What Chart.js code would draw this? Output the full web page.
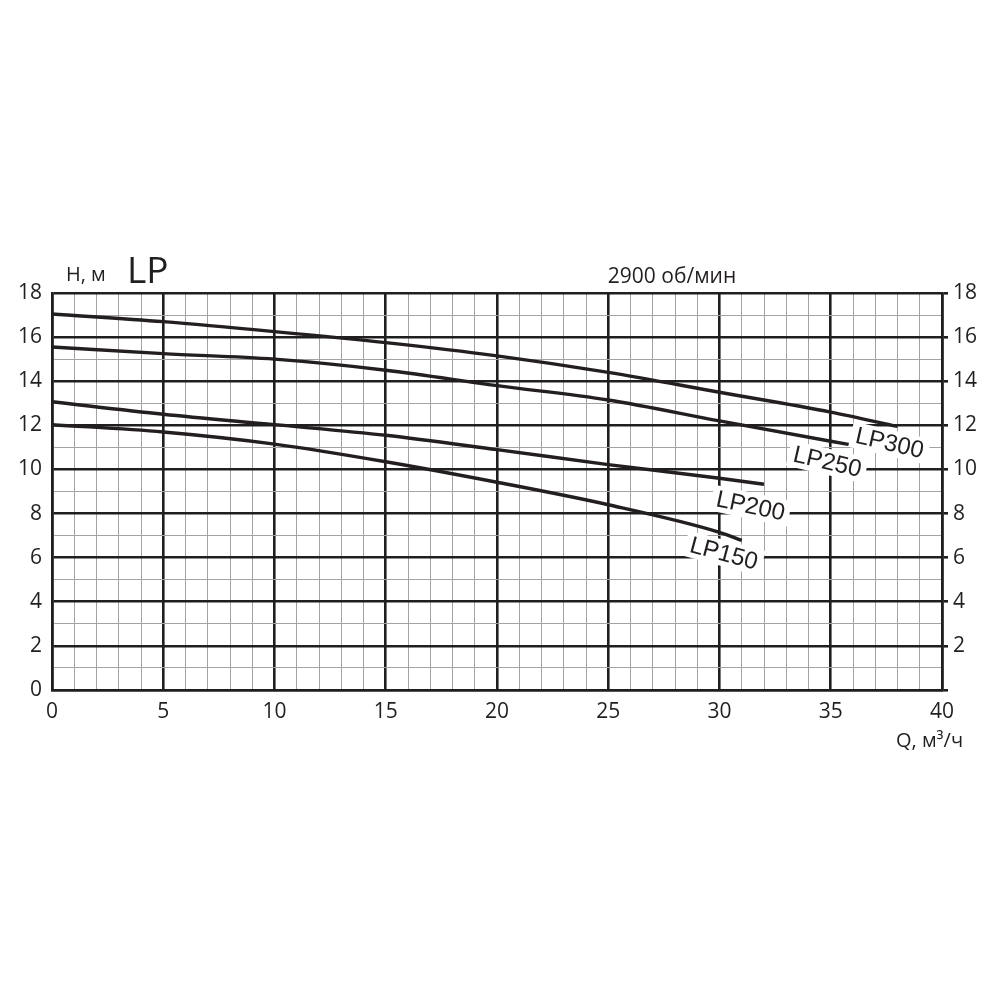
<!DOCTYPE html>
<html>
<head>
<meta charset="utf-8">
<script src="https://cdn.jsdelivr.net/npm/chart.js@4.4.1/dist/chart.umd.min.js"></script>
<style>
  html, body { margin: 0; padding: 0; background: #fff; }
  #wrap { width: 1000px; height: 1000px; }
</style>
</head>
<body>
<div id="wrap"><canvas id="pumpChart" width="1000" height="1000"></canvas></div>
<script>
// Q, m3/h and H, m
const flowLP300 = [0, 5, 10, 15, 20, 25, 30, 35, 38];
const headLP300 = [17.05, 16.7, 16.25, 15.75, 15.15, 14.4, 13.5, 12.6, 11.95];
const flowLP250 = [0, 5, 10, 15, 20, 25, 30, 35, 36];
const headLP250 = [15.55, 15.25, 15.0, 14.5, 13.8, 13.15, 12.2, 11.28, 11.1];
const flowLP200 = [0, 5, 10, 15, 20, 25, 30, 32];
const headLP200 = [13.07, 12.5, 12.03, 11.55, 10.9, 10.22, 9.6, 9.33];
const flowLP150 = [0, 5, 10, 15, 20, 25, 30, 31];
const headLP150 = [12.03, 11.7, 11.15, 10.35, 9.42, 8.4, 7.15, 6.78];

const curveNames = ['LP300', 'LP250', 'LP200', 'LP150'];
// where each curve name sits (Q, H) and its tilt in degrees
const labelQ = [37.65, 34.85, 31.4, 30.2];
const labelH = [11.2, 10.35, 8.35, 6.2];
const labelTilt = [13, 13, 12, 15];

const FONT = '"Open Sans", "DejaVu Sans", sans-serif';
const LABEL_FONT = '"Liberation Sans", Arial, sans-serif';
const INK = '#231f20';

function toPoints(xs, ys) {
    return xs.map((q, i) => ({ x: q, y: ys[i] }));
}

function curve(label, xs, ys) {
    return {
        label: label,
        data: toPoints(xs, ys),
        borderColor: INK,
        borderWidth: 3.4,
        pointRadius: 0,
        cubicInterpolationMode: 'monotone',
        fill: false
    };
}

// texts around the plot and the rotated curve names
const decorations = {
    id: 'decorations',
    afterDatasetsDraw(chart) {
        const ctx = chart.ctx;
        const xs = chart.scales.x;
        const ys = chart.scales.y;
        ctx.save();
        ctx.fillStyle = INK;
        ctx.textBaseline = 'alphabetic';

        ctx.font = '20px ' + FONT;
        ctx.textAlign = 'left';
        ctx.fillText('H, м', 66, 281);
        ctx.font = '37px ' + FONT;
        ctx.fillText('LP', 127, 283);
        ctx.font = '21px ' + FONT;
        ctx.textAlign = 'center';
        ctx.fillText('2900 об/мин', 672, 283);
        ctx.font = '20px ' + FONT;
        ctx.textAlign = 'left';
        ctx.fillText('Q, м³/ч', 896, 747);

        ctx.font = '24px ' + LABEL_FONT;
        ctx.textAlign = 'center';
        ctx.textBaseline = 'middle';
        curveNames.forEach((name, i) => {
            const px = xs.getPixelForValue(labelQ[i]);
            const py = ys.getPixelForValue(labelH[i]);
            ctx.save();
            ctx.translate(px, py);
            ctx.rotate(labelTilt[i] * Math.PI / 180);
            const w = ctx.measureText(name).width;
            ctx.fillStyle = '#fff';
            ctx.fillRect(-w / 2 - 5, -13, w + 10, 26);
            ctx.fillStyle = INK;
            ctx.fillText(name, 0, 1);
            ctx.restore();
        });
        ctx.restore();
    }
};

const majorLine = '#1f1f1f';
const minorLine = '#a3a3a3';

new Chart(document.getElementById('pumpChart'), {
    type: 'line',
    data: {
        datasets: [
            curve('LP300', flowLP300, headLP300),
            curve('LP250', flowLP250, headLP250),
            curve('LP200', flowLP200, headLP200),
            curve('LP150', flowLP150, headLP150)
        ]
    },
    options: {
        responsive: false,
        devicePixelRatio: 1,
        animation: false,
        layout: { padding: { top: 293, left: 0, right: 0, bottom: 0 } },
        plugins: {
            legend: { display: false },
            tooltip: { enabled: false }
        },
        scales: {
            x: {
                type: 'linear',
                min: 0,
                max: 40,
                afterFit(scale) { scale.height = 310; },
                ticks: {
                    stepSize: 1,
                    autoSkip: false,
                    maxRotation: 0,
                    padding: 9,
                    color: INK,
                    font: { family: FONT, size: 21 },
                    callback: v => (v % 5 === 0 ? v : '')
                },
                grid: {
                    drawTicks: false,
                    color: c => (c.tick.value % 5 === 0 ? majorLine : minorLine),
                    lineWidth: c => (c.tick.value % 5 === 0 ? 2.6 : 1)
                },
                border: { display: true, color: majorLine, width: 2.6 }
            },
            y: {
                position: 'left',
                min: 0,
                max: 18,
                afterFit(scale) { scale.width = 52; },
                ticks: {
                    stepSize: 1,
                    autoSkip: false,
                    padding: 10,
                    color: INK,
                    font: { family: FONT, size: 21 },
                    callback: v => (v % 2 === 0 ? v : '')
                },
                grid: {
                    drawTicks: false,
                    color: c => (c.tick.value % 2 === 0 ? majorLine : minorLine),
                    lineWidth: c => (c.tick.value % 2 === 0 ? 2.6 : 1)
                },
                border: { display: true, color: majorLine, width: 2.6 }
            },
            y2: {
                position: 'right',
                min: 0,
                max: 18,
                afterFit(scale) { scale.width = 58; },
                ticks: {
                    stepSize: 1,
                    autoSkip: false,
                    padding: 5,
                    color: INK,
                    font: { family: FONT, size: 21 },
                    callback: v => (v % 2 === 0 && v > 0 ? v : '')
                },
                grid: {
                    drawOnChartArea: false,
                    drawTicks: true,
                    tickLength: 6,
                    color: c => (c.tick.value % 2 === 0 ? majorLine : 'rgba(0,0,0,0)'),
                    lineWidth: 2.6
                },
                border: { display: true, color: majorLine, width: 2.6 }
            }
        }
    },
    plugins: [decorations]
});
</script>
</body>
</html>
